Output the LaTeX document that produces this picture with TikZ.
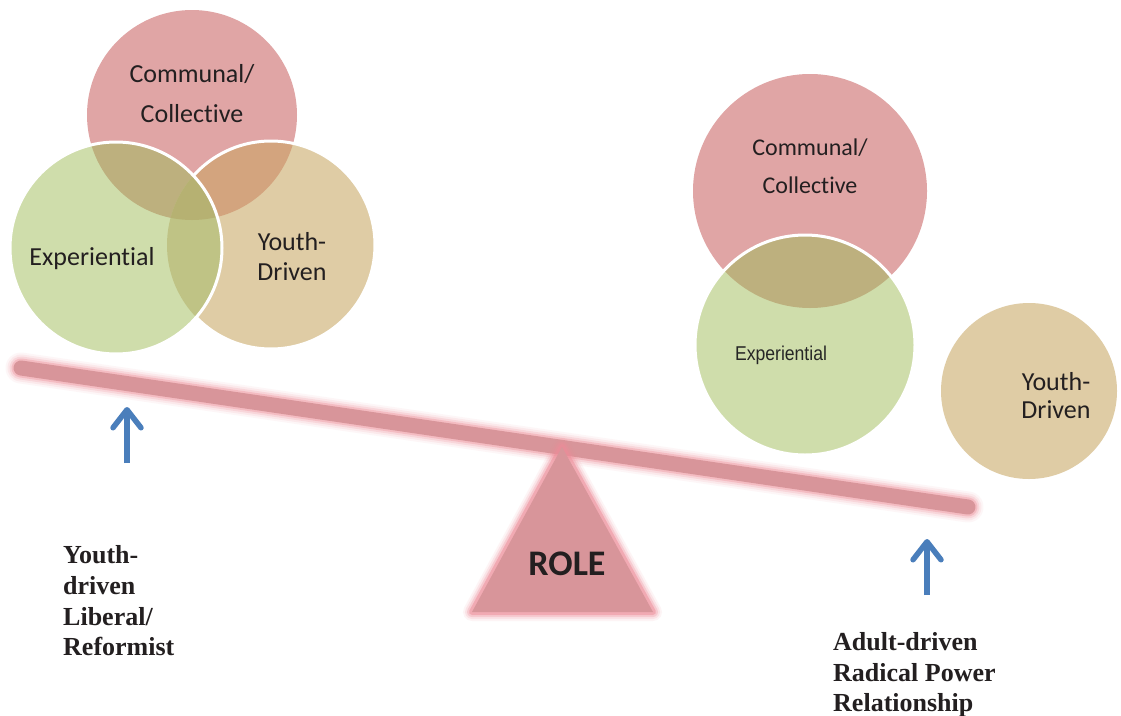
\documentclass[tikz,border=0pt]{standalone}
\usepackage{fontspec}
\usepackage{graphicx}
\setmainfont{Carlito}[Ligatures=NoCommon]
\newfontfamily\timesb{Liberation Serif}
\newfontfamily\arialf{Liberation Sans}
\usetikzlibrary{arrows.meta}
\definecolor{comm}{HTML}{E0A5A5}
\definecolor{expc}{HTML}{CFDDAB}
\definecolor{youc}{HTML}{DFCCA5}
\definecolor{ce}{HTML}{BDB07E}
\definecolor{cy}{HTML}{D3A47E}
\definecolor{ey}{HTML}{BFC385}
\definecolor{cey}{HTML}{B6B172}
\definecolor{beamc}{HTML}{D8959A}
\definecolor{glowc}{HTML}{EE8C98}
\definecolor{arr}{HTML}{4A7EBB}
\definecolor{txt}{HTML}{231F20}
\tikzset{
  ctext/.style={anchor=base, inner sep=0pt, text=txt},
  btext/.style={anchor=base west, inner sep=0pt, text=txt, font=\timesb\bfseries\fontsize{26}{31}\selectfont},
  uparrow/.style={draw=arr, line width=5.5pt, -{Straight Barb[length=18pt,width=28pt,round]}},
  outl/.style={draw=white, line width=3pt}
}
\begin{document}
\begin{tikzpicture}[x=1pt,y=-1pt]
\useasboundingbox (0,0) rectangle (1121,715);
\fill[white] (0,0) rectangle (1121,715);

% ---------- left Venn ----------
\fill[comm] (192,115) circle[radius=105];
\fill[youc] (271,245) circle[radius=104];
\begin{scope}
  \clip (192,115) circle[radius=105];
  \fill[cy] (271,245) circle[radius=104];
\end{scope}
\draw[outl] (271,245) circle[radius=104];
\fill[expc] (116,248) circle[radius=106];
\begin{scope}
  \clip (116,248) circle[radius=106];
  \fill[ce] (192,115) circle[radius=105];
  \fill[ey] (271,245) circle[radius=104];
  \clip (192,115) circle[radius=105];
  \fill[cey] (271,245) circle[radius=104];
\end{scope}
\draw[outl] (116,248) circle[radius=106];

\node[ctext, font=\fontsize{26}{30}\selectfont] (lc1) at (192,82) {Communal/};
\node[ctext, font=\fontsize{26}{30}\selectfont] (lc2) at (192,122) {Collective};
\node[ctext, font=\fontsize{26}{30}\selectfont] (le) at (92,265) {Experiential};
\node[ctext, font=\fontsize{26}{30}\selectfont] (ly1) at (292,250) {Youth-};
\node[ctext, font=\fontsize{26}{30}\selectfont] (ly2) at (292,280) {Driven};

% ---------- right circles ----------
\fill[comm] (810,191) circle[radius=117];
\fill[expc] (805,345) circle[radius=110];
\begin{scope}
  \clip (805,345) circle[radius=110];
  \fill[ce] (810,191) circle[radius=117];
\end{scope}
\draw[outl] (805,345) circle[radius=110];
\fill[youc] (1029,391) circle[radius=88];

\node[ctext, font=\fontsize{24}{30}\selectfont] (rc1) at (810,155) {Communal/};
\node[ctext, font=\fontsize{24}{30}\selectfont] (rc2) at (810,193) {Collective};
\node[ctext, font=\arialf\fontsize{20}{24}\selectfont, text=black!85] (re) at (781,360) {\scalebox{0.88}[1]{Experiential}};
\node[ctext, font=\fontsize{26}{30}\selectfont] (ry1) at (1056,390) {Youth-};
\node[ctext, font=\fontsize{26}{30}\selectfont] (ry2) at (1056,418) {Driven};

% ---------- beam ----------
\coordinate (beamL) at (21,368);
\coordinate (beamR) at (968,507);
\foreach \w/\o in {31/0.07,27/0.12,23/0.2,19/0.35}
  \draw[glowc, opacity=\o, line width=\w pt, line cap=round] (beamL) -- (beamR);
\draw[beamc, line width=15pt, line cap=round] (beamL) -- (beamR);

% ---------- fulcrum ----------
\coordinate (tA) at (562,447);
\coordinate (tL) at (472,612);
\coordinate (tR) at (653,612);
\foreach \w/\o in {18/0.09,14/0.16,10/0.28,6/0.5}
  \draw[glowc, opacity=\o, line width=\w pt, line join=round] (tA) -- (tL) -- (tR) -- cycle;
\fill[beamc] (tA) -- (tL) -- (tR) -- cycle;
\node[ctext, font=\bfseries\fontsize{36}{40}\selectfont] (role) at (567,575) {ROLE};

% ---------- arrows ----------
\coordinate (a1s) at (127,463);
\coordinate (a1e) at (127,407);
\coordinate (a2s) at (927,595);
\coordinate (a2e) at (927,539);
\draw[uparrow] (a1s) -- (a1e);
\draw[uparrow] (a2s) -- (a2e);

% ---------- labels ----------
\node[btext] (l1) at (63,563) {Youth-};
\node[btext] (l2) at (63,594) {driven};
\node[btext] (l3) at (63,625) {Liberal/};
\node[btext] (l4) at (63,655) {Reformist};
\node[btext] (r1) at (833,650) {Adult-driven};
\node[btext] (r2) at (833,681) {Radical Power};
\node[btext] (r3) at (833,711) {Relationship};
\end{tikzpicture}
\end{document}
